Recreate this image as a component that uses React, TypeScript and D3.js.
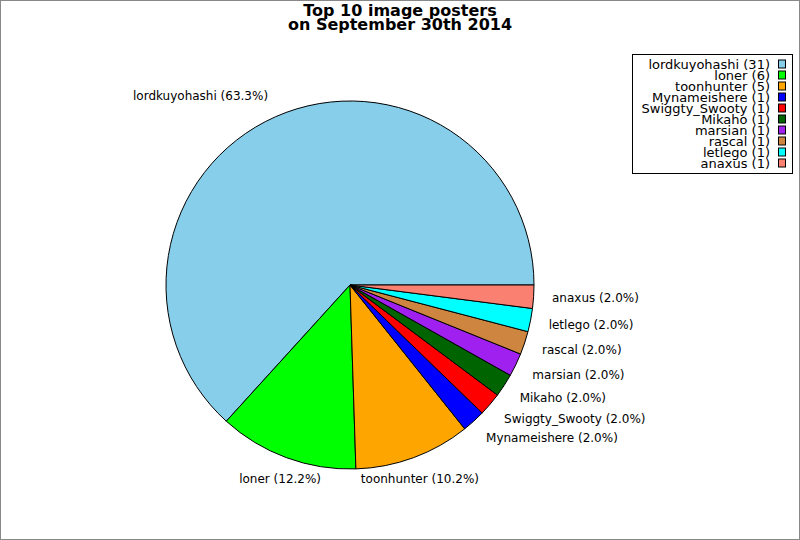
import React, { useEffect, useRef } from "react";
import * as d3 from "d3";

const names = [
  "lordkuyohashi",
  "loner",
  "toonhunter",
  "Mynameishere",
  "Swiggty_Swooty",
  "Mikaho",
  "marsian",
  "rascal",
  "letlego",
  "anaxus",
];
const counts = [31, 6, 5, 1, 1, 1, 1, 1, 1, 1];
const colors = [
  "#87CEEB",
  "#00FF00",
  "#FFA500",
  "#0000FF",
  "#FF0000",
  "#006400",
  "#A020F0",
  "#CD853F",
  "#00FFFF",
  "#FA8072",
];
const titleLines = ["Top 10 image posters", "on September 30th 2014"];

const W = 800;
const H = 540;

const App: React.FC = () => {
  const svgRef = useRef<SVGSVGElement | null>(null);

  useEffect(() => {
    if (!svgRef.current) return;
    const svg = d3.select(svgRef.current);
    svg.selectAll("*").remove();

    const cx = 350;
    const cy = 285;
    const r = 184;
    const total = d3.sum(counts);
    const font = "'DejaVu Sans', sans-serif";

    svg
      .append("rect")
      .attr("x", 0.5)
      .attr("y", 0.5)
      .attr("width", W - 1)
      .attr("height", H - 1)
      .attr("fill", "white")
      .attr("stroke", "#888");

    // title
    svg
      .append("g")
      .selectAll("text")
      .data(titleLines)
      .enter()
      .append("text")
      .attr("x", 400)
      .attr("y", (_d, i) => 16 + i * 13.5)
      .attr("text-anchor", "middle")
      .attr("font-family", font)
      .attr("font-weight", "bold")
      .attr("font-size", 16)
      .text((d) => d);

    // counterclockwise from 3 o'clock
    const pie = d3
      .pie<number>()
      .sort(null)
      .startAngle(Math.PI / 2)
      .endAngle(Math.PI / 2 - 2 * Math.PI);
    const arcs = pie(counts);
    const arc = d3.arc<d3.PieArcDatum<number>>().innerRadius(0).outerRadius(r);

    const g = svg.append("g").attr("transform", `translate(${cx},${cy})`);
    g.selectAll("path")
      .data(arcs)
      .enter()
      .append("path")
      .attr("d", arc)
      .attr("fill", (_d, i) => colors[i])
      .attr("stroke", "black")
      .attr("stroke-width", 1);

    // slice labels
    g.selectAll("text")
      .data(arcs)
      .enter()
      .append("text")
      .each(function (d, i) {
        const a = (d.startAngle + d.endAngle) / 2; // d3 angle, clockwise from top
        const sx = Math.sin(a);
        const sy = -Math.cos(a);
        const anchor = Math.abs(sx) < 0.38 ? "middle" : sx > 0 ? "start" : "end";
        d3.select(this)
          .attr("x", sx * r * 1.1)
          .attr("y", sy * r * 1.125)
          .attr("dy", "0.35em")
          .attr("text-anchor", anchor)
          .attr("font-family", font)
          .attr("font-size", 12)
          .text(`${names[i]} (${((counts[i] / total) * 100).toFixed(1)}%)`);
      });

    // legend
    const leg = svg.append("g");
    leg
      .append("rect")
      .attr("x", 632.5)
      .attr("y", 54.5)
      .attr("width", 160)
      .attr("height", 119)
      .attr("fill", "white")
      .attr("stroke", "black");
    const rowY = d3.scaleLinear().domain([0, names.length - 1]).range([64, 163]);
    names.forEach((n, i) => {
      leg
        .append("text")
        .attr("x", 770)
        .attr("y", rowY(i))
        .attr("dy", "0.35em")
        .attr("text-anchor", "end")
        .attr("font-family", font)
        .attr("font-size", 13)
        .text(`${n} (${counts[i]})`);
      leg
        .append("rect")
        .attr("x", 778.5)
        .attr("y", rowY(i) - 4)
        .attr("width", 7)
        .attr("height", 8)
        .attr("fill", colors[i])
        .attr("stroke", "black");
    });
  }, []);

  return (
    <div style={{ position: "absolute", left: 0, top: 0 }}>
      <svg ref={svgRef} width={W} height={H} style={{ display: "block" }}></svg>
    </div>
  );
};

export default App;
